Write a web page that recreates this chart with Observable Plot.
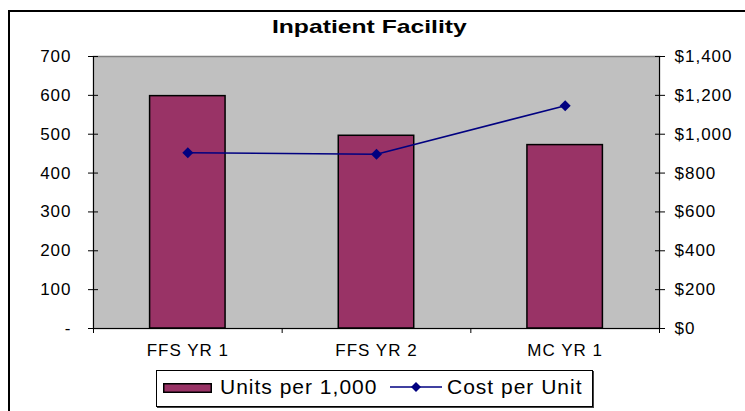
<!DOCTYPE html>
<html>
<head>
<meta charset="utf-8">
<script src="https://cdn.jsdelivr.net/npm/d3@7"></script>
<script src="https://cdn.jsdelivr.net/npm/@observablehq/plot@0.6"></script>
<style>
  html, body { margin: 0; padding: 0; background: #fff; }
  #wrap { position: relative; width: 745px; height: 411px; overflow: hidden; font-family: "Liberation Sans", Arial, sans-serif; }
  #border { position: absolute; left: 8px; top: 10px; width: 800px; height: 500px; border-left: 2px solid #000; border-top: 2px solid #000; }
  #chart { position: absolute; left: 0; top: 0; }
  #title { position: absolute; left: 0; width: 745px; top: 16px; text-align: center; font-weight: bold; font-size: 19px; transform: scaleX(1.3); transform-origin: 383px 0; }
  #legend { position: absolute; left: 156px; top: 370px; width: 435px; height: 35px; border: 1px solid #000; box-shadow: 1px 1px 0 #444; background: #fff; font-size: 21px; letter-spacing: 1px; }
  #legend .item { position: absolute; top: 4px; white-space: nowrap; }
  #legend svg { position: absolute; }
</style>
</head>
<body>
<div id="wrap">
  <div id="border"></div>
  <div id="chart"></div>
  <div id="title">Inpatient Facility</div>
  <div id="legend"></div>
</div>
<script>
const categories = ["FFS YR 1", "FFS YR 2", "MC YR 1"];
const unitsPer1000 = [598, 496, 472];
const costPerUnit = [905, 897, 1147];
const unitTicks = [0, 100, 200, 300, 400, 500, 600, 700];
const costTicks = [0, 200, 400, 600, 800, 1000, 1200, 1400];
const seriesNames = ["Units per 1,000", "Cost per Unit"];

const barColor = "#993366";
const lineColor = "#000080";
const ratio = costTicks[costTicks.length - 1] / unitTicks[unitTicks.length - 1];

const data = categories.map((c, i) => ({ i, category: c, units: unitsPer1000[i], cost: costPerUnit[i] }));
const bounds = d3.range(categories.length + 1);
const centers = categories.map((c, i) => i + 0.5);

const chart = Plot.plot({
  width: 745,
  height: 411,
  marginLeft: 93,
  marginRight: 86,
  marginTop: 56,
  marginBottom: 83,
  style: { fontFamily: "Liberation Sans, Arial, sans-serif", fontSize: "17px", color: "#000", background: "transparent", letterSpacing: "1px" },
  x: { domain: [0, categories.length], axis: null },
  y: { domain: [0, unitTicks[unitTicks.length - 1]], axis: null },
  marks: [
    Plot.frame({ fill: "#C0C0C0", stroke: "#808080", strokeWidth: 1.5 }),
    Plot.rectY(data, { x1: d => d.i + 0.3, x2: d => d.i + 0.7, y1: 0, y2: "units", fill: barColor, stroke: "#000", strokeWidth: 1.5 }),
    Plot.line(data, { x: d => d.i + 0.5, y: d => d.cost / ratio, stroke: lineColor, strokeWidth: 1.5 }),
    Plot.dot(data, { x: d => d.i + 0.5, y: d => d.cost / ratio, symbol: "square", rotate: 45, r: 4.4, fill: lineColor, stroke: null }),
    Plot.ruleX([0, categories.length], { stroke: "#000", strokeWidth: 1 }),
    Plot.ruleY([0], { stroke: "#000", strokeWidth: 1 }),
    // left axis: crossing ticks + labels
    Plot.axisY({ anchor: "left", label: null, ticks: unitTicks, tickSize: 10, dx: 5, tickFormat: () => "", stroke: "#000", strokeOpacity: 1 }),
    Plot.axisY({ anchor: "left", label: null, ticks: unitTicks, tickSize: 0, tickPadding: 22, tickFormat: d => d === 0 ? "-" : d3.format(",")(d) }),
    // right axis
    Plot.axisY({ anchor: "right", label: null, ticks: unitTicks, tickSize: 10, dx: -5, tickFormat: () => "", stroke: "#000", strokeOpacity: 1 }),
    Plot.axisY({ anchor: "right", label: null, ticks: unitTicks, tickSize: 0, tickPadding: 15, tickFormat: d => "$" + d3.format(",")(d * ratio) }),
    // x axis: boundary ticks and centered category labels
    Plot.axisX({ label: null, ticks: bounds, tickSize: 5, tickFormat: () => "", stroke: "#000", strokeOpacity: 1 }),
    Plot.axisX({ label: null, ticks: centers, tickSize: 0, tickPadding: 15, tickFormat: d => categories[Math.floor(d)] })
  ]
});
document.getElementById("chart").appendChild(chart);

// legend
const legend = document.getElementById("legend");
legend.innerHTML = `
  <svg style="left:6px;top:12px" width="50" height="11"><rect x="0.75" y="0.75" width="47.5" height="8.5" fill="${barColor}" stroke="#000" stroke-width="1.5"/></svg>
  <div class="item" style="left:63px">${seriesNames[0]}</div>
  <svg style="left:233px;top:8px" width="52" height="16"><line x1="0" x2="52" y1="8" y2="8" stroke="${lineColor}" stroke-width="1.5"/><path d="M26,3 L31,8 L26,13 L21,8 Z" fill="${lineColor}"/></svg>
  <div class="item" style="left:290px">${seriesNames[1]}</div>
`;
</script>
</body>
</html>
